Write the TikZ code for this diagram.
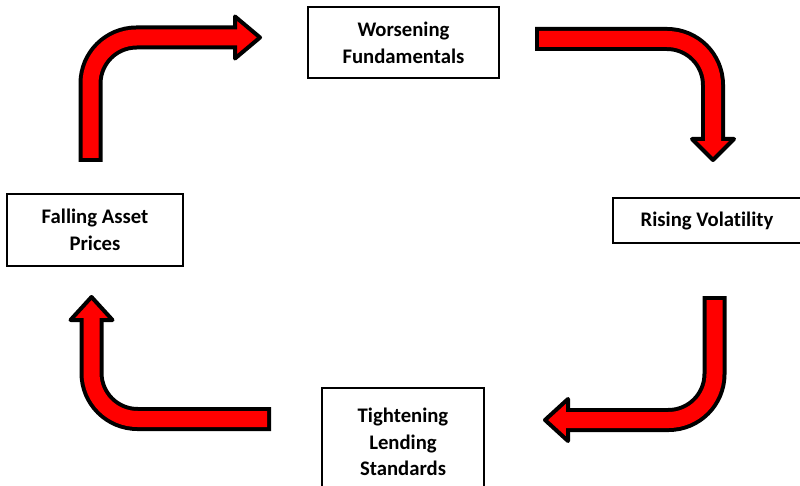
\documentclass[tikz,border=0pt]{standalone}
\usepackage{fontspec}
\setmainfont[Ligatures=NoCommon]{Carlito}
\usetikzlibrary{arrows.meta, positioning, calc}

% bent block arrow: tail, path operation, head base, tip
\newcommand{\bentarrow}[4]{%
    \draw[shaftout] (#1) #2 (#3);
    \filldraw[head] (#3) -- ($(#3)!21pt!90:(#4)$) -- (#4) -- ($(#3)!21pt!-90:(#4)$) -- cycle;
    \draw[shaftin] (#1) #2 (#3);
}

\begin{document}
\begin{tikzpicture}[x=1pt, y=-1pt,
    stage/.style={draw, line width=1.2pt, align=center, inner sep=0pt,
        font=\fontsize{20.7}{26.7}\selectfont\bfseries},
    shaftout/.style={draw=black, line width=24pt, rounded corners=46pt},
    shaftin/.style={draw=red, line width=16pt, rounded corners=46pt, shorten <=4pt, shorten >=-5pt},
    head/.style={fill=red, draw=black, line width=4pt, line join=round}]
    \useasboundingbox (0,0) rectangle (800,486);

    \node[stage, minimum width=191pt, minimum height=71pt] (worse) at (403.5,42.5) {Worsening\\Fundamentals};
    \node[stage, minimum width=188pt, minimum height=45pt] (vol) at (707,220.5) {Rising Volatility};
    \node[stage, minimum width=162pt, minimum height=108pt] (lend) at (403,442) {Tightening\\Lending\\Standards};
    \node[stage, minimum width=176pt, minimum height=72pt] (fall) at (95,230) {Falling Asset\\Prices};

    % arrow ends
    \coordinate (t1) at (90.5,162);  \coordinate (b1) at (235,37.5); \coordinate (h1) at (260,37.5);
    \coordinate (t2) at (535,39);    \coordinate (b2) at (713,139);  \coordinate (h2) at (713,160);
    \coordinate (t3) at (714.5,296); \coordinate (b3) at (568,420);  \coordinate (h3) at (545,420);
    \coordinate (t4) at (271,419);   \coordinate (b4) at (91.5,320); \coordinate (h4) at (91.5,297);

    \bentarrow{t1}{|-}{b1}{h1}
    \bentarrow{t2}{-|}{b2}{h2}
    \bentarrow{t3}{|-}{b3}{h3}
    \bentarrow{t4}{-|}{b4}{h4}
\end{tikzpicture}
\end{document}
